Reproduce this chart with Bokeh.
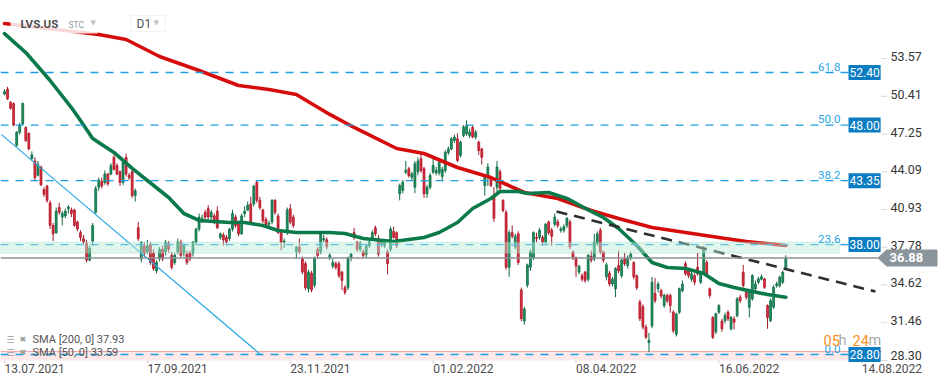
from bokeh.plotting import figure
from bokeh.models import (Range1d, BoxAnnotation, Label, PolyAnnotation,
                          ColumnDataSource)
from bokeh.embed import file_html
from bokeh.resources import INLINE

# ---------------- data ----------------
opens = [
    50.6, 51.0, 49.9, 49.8, 46.3, 47.4, 48.1, 47.8, 47.3, 45.2,
    45.0, 43.8, 44.5, 42.6, 42.9, 41.5, 39.6, 39.0, 41.1, 40.3,
    40.4, 41.0, 40.9, 40.9, 39.9, 39.0, 38.5, 38.1, 36.7, 38.3,
    40.7, 42.8, 43.3, 43.2, 43.9, 43.9, 45.3, 44.6, 44.1, 43.2,
    45.3, 43.8, 44.1, 42.1, 39.4, 36.8, 37.9, 37.4, 38.0, 37.3,
    35.8, 36.8, 37.6, 37.4, 38.1, 37.1, 36.5, 37.4, 38.2, 37.3,
    37.2, 37.3, 37.3, 38.2, 39.3,
    40.0, 40.7, 41.0, 40.3, 40.4, 40.8, 38.6, 38.8, 38.6, 38.5,
    39.3, 40.3, 39.9, 38.9, 40.6, 40.9, 41.4, 41.4, 43.2, 41.7,
    40.9, 40.1, 39.7, 39.9, 41.7, 40.4, 39.0, 38.2, 39.0, 41.0,
    40.3, 37.4, 37.8, 36.8, 36.4, 34.3, 35.6, 34.6, 37.6, 37.4,
    38.4, 38.4, 36.9, 36.2, 36.4, 36.4, 35.7, 34.4, 34.4, 36.9,
    39.0, 38.2, 37.6, 37.4, 37.2, 37.9, 38.5, 39.4, 38.5, 38.0,
    37.9, 37.4, 37.6, 39.1, 39.0,
    42.25, 42.53, 44.06, 44.34, 43.64, 42.8, 44.1, 45.18, 44.34, 42.25,
    42.8, 44.06, 44.0, 44.0, 43.7, 44.2, 45.7, 46.0, 46.71, 46.85,
    45.46, 47.13, 47.27, 47.13, 47.8, 47.0, 46.57, 46.0, 42.94, 43.6,
    43.5, 42.0, 42.8, 44.1, 41.69, 40.7, 36.1, 39.0, 37.8, 38.9,
    34.2, 31.6, 34.6, 36.1, 36.9, 38.6, 38.6, 38.6, 38.2, 39.9,
    39.2, 39.7, 39.9, 39.2, 39.2, 39.6, 39.9, 37.4, 36.9, 35.7,
    35.4, 35.7, 35.1,
    37.0, 36.8, 38.06, 39.2, 37.4, 35.3, 35.6, 34.7, 34.3, 36.25,
    35.4, 36.8, 36.25, 36.9, 36.5, 35.4, 33.2, 32.8, 31.1, 29.8,
    31.2, 33.9, 34.3, 34.15, 32.9, 33.75, 33.74, 32.34, 30.5, 32.34,
    34.15, 36.4, 35.8, 35.1, 35.4, 36.1, 34.85, 35.7, 36.5, 34.3,
    31.9, 30.7, 32.34, 31.6, 31.64, 32.34, 30.95, 31.78, 32.06, 33.6,
    35.69, 34.0, 32.76, 33.46, 34.3, 34.85, 35.1, 35.13, 32.9, 31.64,
    32.76, 34.57, 34.57, 34.85, 35.97,
]
highs = [
    51.0, 51.2, 50.0, 49.9, 47.5, 48.2, 49.9, 47.9, 47.4, 45.8,
    45.3, 45.0, 44.6, 42.8, 43.0, 41.7, 39.8, 41.1, 41.5, 40.8,
    41.0, 41.3, 41.1, 41.0, 40.0, 39.2, 38.8, 38.4, 37.9, 39.8,
    42.9, 43.6, 43.6, 44.2, 44.0, 44.8, 45.5, 44.8, 44.2, 45.0,
    45.6, 44.0, 44.2, 42.7, 39.9, 38.3, 38.2, 38.4, 38.2, 37.6,
    36.7, 37.8, 37.9, 38.4, 38.3, 37.4, 37.3, 38.5, 38.4, 38.1,
    37.5, 37.5, 38.3, 39.4, 40.6,
    40.5, 40.9, 41.3, 40.9, 40.6, 41.2, 39.0, 39.0, 38.8, 39.4,
    40.9, 40.5, 40.0, 40.6, 41.2, 41.6, 42.0, 43.0, 43.4, 42.0,
    41.0, 40.3, 40.0, 41.8, 41.8, 40.6, 39.1, 38.5, 41.1, 41.4,
    40.5, 37.9, 38.5, 37.0, 36.6, 35.9, 35.8, 37.0, 37.8, 39.1,
    38.8, 38.6, 37.3, 36.8, 36.6, 36.6, 35.8, 34.6, 37.0, 37.3,
    39.4, 38.3, 38.3, 37.6, 38.0, 38.4, 39.2, 39.6, 38.8, 38.4,
    38.4, 37.6, 39.5, 39.5, 39.1,
    43.1, 43.4, 45.0, 44.5, 44.1, 45.0, 45.3, 45.7, 44.5, 43.0,
    44.0, 45.3, 44.5, 45.1, 44.5, 45.9, 46.2, 47.0, 47.2, 47.3,
    46.7, 48.0, 48.4, 47.7, 48.0, 47.6, 46.7, 46.1, 43.8, 44.8,
    43.7, 42.8, 45.0, 44.3, 41.8, 40.9, 39.2, 39.6, 38.9, 39.1,
    34.4, 32.8, 36.4, 37.6, 39.1, 39.0, 39.4, 38.8, 39.8, 40.0,
    39.4, 40.6, 40.1, 39.5, 39.7, 40.3, 40.1, 37.5, 37.0, 36.3,
    35.6, 35.8, 37.2,
    37.5, 38.9, 39.1, 39.4, 37.5, 36.5, 35.8, 35.3, 36.1, 37.5,
    36.8, 37.3, 37.1, 37.4, 36.6, 35.5, 33.4, 33.0, 31.3, 30.6,
    35.3, 35.2, 34.9, 34.3, 33.9, 33.9, 33.9, 32.5, 32.3, 34.4,
    35.0, 36.6, 36.0, 35.7, 35.6, 37.3, 35.8, 37.9, 36.7, 34.4,
    32.0, 32.3, 33.0, 31.8, 32.3, 32.5, 32.0, 32.0, 33.6, 33.8,
    36.3, 34.2, 34.3, 35.5, 35.0, 35.3, 35.5, 35.2, 33.0, 33.5,
    34.6, 34.9, 35.4, 35.8, 37.1,
]
lows = [
    50.5, 50.1, 49.3, 47.9, 46.2, 47.2, 48.0, 46.6, 45.9, 45.0,
    43.3, 43.7, 42.9, 42.0, 41.5, 39.3, 38.3, 38.9, 40.5, 39.6,
    40.2, 40.6, 40.3, 39.5, 39.1, 38.3, 38.0, 36.5, 36.6, 37.9,
    40.6, 42.5, 42.7, 43.0, 42.9, 43.8, 44.2, 43.8, 42.9, 43.0,
    43.7, 43.4, 41.9, 41.6, 38.3, 36.5, 37.0, 37.2, 36.3, 35.8,
    35.6, 36.6, 36.6, 37.1, 37.3, 35.9, 36.3, 37.2, 36.9, 37.0,
    36.3, 36.6, 37.0, 38.0, 39.1,
    39.8, 40.1, 40.1, 40.1, 39.7, 39.3, 38.4, 37.9, 37.9, 38.3,
    39.1, 39.4, 38.7, 38.8, 40.3, 40.8, 39.7, 41.2, 41.5, 40.9,
    39.8, 39.4, 39.5, 39.7, 40.5, 38.9, 37.5, 37.7, 38.8, 39.7,
    39.4, 36.8, 37.2, 35.5, 34.2, 34.0, 34.0, 34.4, 36.8, 37.2,
    38.2, 37.6, 36.7, 36.0, 35.9, 35.2, 34.2, 33.8, 34.2, 36.6,
    38.4, 37.4, 37.4, 36.9, 36.9, 37.7, 38.3, 38.7, 37.0, 37.8,
    37.7, 35.5, 37.4, 38.5, 37.7,
    41.7, 42.3, 43.9, 43.6, 43.4, 42.3, 43.8, 44.0, 41.9, 41.9,
    42.6, 43.9, 43.8, 43.8, 43.3, 44.0, 45.5, 45.9, 46.5, 44.9,
    45.3, 47.0, 47.1, 46.9, 46.9, 46.8, 45.5, 44.7, 42.1, 42.9,
    42.8, 39.9, 42.3, 42.3, 40.7, 35.9, 35.3, 38.5, 37.6, 36.3,
    31.6, 31.3, 34.4, 35.8, 36.7, 38.2, 38.4, 37.9, 38.0, 38.8,
    37.9, 39.5, 39.4, 39.0, 39.0, 39.4, 37.6, 36.7, 35.3, 35.5,
    34.9, 34.8, 34.9,
    36.5, 36.6, 37.9, 37.2, 36.5, 35.0, 34.5, 34.5, 33.6, 35.6,
    35.2, 36.2, 36.0, 36.7, 35.1, 34.2, 31.6, 30.9, 30.1, 29.0,
    31.0, 33.1, 34.0, 33.5, 32.7, 33.1, 32.3, 30.6, 30.3, 32.2,
    34.0, 35.4, 35.2, 34.9, 34.6, 35.4, 34.7, 35.5, 35.4, 33.5,
    30.1, 30.5, 32.2, 30.7, 31.4, 31.6, 30.8, 30.9, 31.9, 33.1,
    34.4, 33.4, 31.9, 33.3, 34.1, 34.7, 35.0, 34.3, 30.95, 31.5,
    32.6, 34.4, 34.4, 34.7, 35.9,
]
closes = [
    50.8, 50.2, 49.4, 48.0, 47.4, 48.0, 49.8, 46.7, 46.0, 45.5,
    43.6, 44.7, 43.0, 42.2, 41.7, 39.6, 38.9, 40.8, 40.7, 40.6,
    40.8, 41.15, 40.6, 39.6, 39.3, 38.6, 38.2, 36.7, 37.7, 39.6,
    42.7, 43.4, 42.9, 43.9, 43.1, 44.6, 44.3, 43.9, 43.2, 44.9,
    43.9, 43.6, 42.1, 42.5, 38.5, 38.2, 37.3, 37.9, 36.5, 36.0,
    36.5, 37.6, 36.8, 38.2, 37.6, 36.1, 37.1, 38.2, 37.1, 37.9,
    36.5, 36.8, 38.2, 39.3, 40.3,
    40.2, 40.3, 40.3, 40.7, 39.9, 39.4, 38.9, 38.4, 38.2, 39.3,
    40.6, 39.6, 38.9, 40.4, 40.8, 41.3, 39.9, 42.9, 41.7, 41.1,
    40.0, 39.6, 39.8, 41.7, 40.7, 39.0, 38.2, 38.3, 40.9, 39.9,
    39.6, 37.8, 37.4, 35.7, 34.4, 35.7, 34.2, 36.9, 37.1, 39.0,
    38.5, 37.8, 37.1, 36.5, 36.1, 35.4, 35.0, 34.0, 36.9, 37.2,
    38.6, 37.6, 38.1, 37.1, 37.9, 38.2, 39.0, 38.9, 37.2, 38.2,
    38.2, 36.4, 39.3, 38.6, 37.9,
    42.94, 43.22, 44.2, 43.78, 43.92, 44.76, 45.0, 44.2, 42.25, 42.8,
    43.78, 44.62, 44.2, 44.9, 44.3, 45.73, 46.0, 46.85, 46.99, 45.04,
    46.57, 47.83, 47.97, 47.41, 47.0, 47.4, 45.87, 45.3, 43.64, 44.48,
    42.94, 40.2, 44.5, 42.7, 40.85, 36.1, 39.0, 38.7, 38.7, 36.5,
    31.8, 32.6, 36.3, 37.4, 39.0, 38.5, 39.2, 38.2, 39.7, 39.0,
    38.7, 40.3, 39.6, 39.3, 39.5, 40.2, 37.8, 36.9, 36.2, 36.2,
    35.1, 35.0, 37.1,
    36.7, 38.2, 38.9, 37.4, 36.7, 36.3, 34.7, 35.1, 36.0, 35.8,
    36.7, 36.4, 36.9, 37.2, 35.3, 34.4, 31.8, 31.1, 30.25, 30.0,
    34.85, 33.3, 34.7, 33.7, 33.75, 33.3, 32.9, 30.8, 32.2, 34.3,
    34.7, 35.55, 35.4, 35.55, 34.85, 35.55, 35.7, 37.64, 35.55, 33.74,
    30.25, 32.2, 32.9, 30.95, 32.06, 31.78, 31.92, 31.5, 33.46, 33.3,
    34.57, 33.6, 34.15, 35.41, 34.7, 35.13, 35.3, 34.43, 31.9, 33.3,
    34.43, 34.71, 35.27, 35.69, 36.88,
]

# moving averages (bar index, value)
sma200_idx = [0, 31, 40, 51, 64, 77, 87, 96, 107, 115, 129, 138, 149,
              160, 171, 182, 193, 202, 213, 224, 235, 244, 257]
sma200_val = [56.5, 55.58, 55.16, 53.74, 52.57, 51.31, 50.98, 50.56, 48.89,
              47.8, 46.04, 45.62, 44.45, 43.61, 42.36, 41.86, 40.85, 40.18,
              39.43, 39.01, 38.59, 38.26, 37.93]
sma50_idx = [0, 7, 15, 22, 25, 29, 36, 42, 47, 54, 59, 64, 74, 79, 85, 90,
             96, 107, 112, 118, 128, 138, 143, 149, 154, 160, 163, 169, 172,
             179, 185, 193, 197, 202, 208, 213, 218, 224, 230, 235, 240, 246,
             251, 257]
sma50_val = [55.66, 54.07, 51.73, 49.47, 48.38, 46.88, 45.71, 44.37, 43.36,
             41.94, 40.6, 40.02, 39.85, 39.85, 39.6, 39.18, 39.01, 39.01,
             38.93, 38.51, 38.26, 38.59, 39.01, 39.85, 41.02, 41.86, 42.44,
             42.44, 42.27, 42.36, 41.86, 40.77, 40.27, 39.35, 37.92, 36.5,
             36.08, 36.0, 35.58, 34.74, 34.41, 34.07, 33.82, 33.59]

fib_pct = ["61.8", "50.0", "38.2", "23.6", "0.0"]
fib_lvl = [52.40, 48.00, 43.35, 38.00, 28.80]
y_ticks = [28.30, 31.46, 34.62, 37.78, 40.93, 44.09, 47.25, 50.41, 53.57]
date_idx = [0, 47, 94, 141, 188, 235, 282]
date_lbl = ["13.07.2021", "17.09.2021", "23.11.2021", "01.02.2022",
            "08.04.2022", "16.06.2022", "14.08.2022"]
last_price = 36.88
zone_top, zone_bottom = 38.20, 37.28
pink_top = 29.05
support_x, support_y = [-1, 84], [47.2, 28.85]          # thin blue trend line
resist_x, resist_y = [181.6, 286.5], [40.77, 34.07]     # black dashed trend line
legend_rows = ["SMA [200, 0] 37.93", "SMA [50, 0] 33.59"]

# ---------------- layout (pixels) ----------------
W, H = 948, 384
PX_BAR, PX_USD = 3.04, 11.95
X0 = -4 / PX_BAR                 # bar index at the left edge
Y_TOP = 52.40 + 72 / PX_USD      # price at the top edge
PLOT_RIGHT_PX = 881              # right end of the price pane
PLOT_BOTTOM = 28.30              # price at the bottom of the price pane
PLOT_RIGHT = X0 + PLOT_RIGHT_PX / PX_BAR

GREEN, GREEN_EDGE = "#1f9160", "#0f6b44"
RED, RED_EDGE = "#df2c3c", "#a8192a"
FIB = "#1a9fe3"

p = figure(width=W, height=H,
           x_range=Range1d(X0, X0 + W / PX_BAR),
           y_range=Range1d(Y_TOP - H / PX_USD, Y_TOP),
           x_axis_location=None, y_axis_location=None,
           output_backend="svg", toolbar_location=None,
           min_border_left=0, min_border_right=0, min_border_top=0,
           min_border_bottom=0)
p.outline_line_color = None
p.grid.visible = False

# bands (drawn first so that lines stay crisp)
p.add_layout(BoxAnnotation(bottom=PLOT_BOTTOM, top=pink_top,
                           right=PLOT_RIGHT_PX, right_units="screen",
                           fill_color="#fbd3d3", fill_alpha=0.5,
                           line_color=None, level="underlay"))
p.segment(x0=[X0], x1=[PLOT_RIGHT], y0=[pink_top], y1=[pink_top],
          line_color="#f3a9a9", line_width=1)

# candles
n = len(closes)
up = [i for i in range(n) if closes[i] >= opens[i]]
dn = [i for i in range(n) if closes[i] < opens[i]]


def candle_source(ids):
    return ColumnDataSource(dict(
        x=ids,
        top=[max(opens[i], closes[i]) for i in ids],
        bottom=[min(opens[i], closes[i]) for i in ids],
        high=[highs[i] for i in ids],
        low=[lows[i] for i in ids]))


for ids, fill, edge in ((up, GREEN, GREEN_EDGE), (dn, RED, RED_EDGE)):
    s = candle_source(ids)
    p.segment(x0="x", y0="low", x1="x", y1="high", source=s,
              line_color=edge, line_width=1)
    p.vbar(x="x", width=0.62, top="top", bottom="bottom", source=s,
           fill_color=fill, line_color=edge, line_width=0.8)

# moving averages and trend lines
p.line(sma200_idx, sma200_val, line_color="#d60c0c", line_width=3.6,
       line_join="round", line_cap="round")
p.line(sma50_idx, sma50_val, line_color="#0b7a4b", line_width=3.6,
       line_join="round", line_cap="round")
p.line(support_x, support_y, line_color="#2aa9e4", line_width=1.2)
p.line(resist_x, resist_y, line_color="#2f2f2f", line_width=2.6,
       line_dash="11 7")

# green zone (semi transparent, over the candles)
p.add_layout(BoxAnnotation(bottom=zone_bottom, top=zone_top, right=839,
                           right_units="screen", fill_color="#b9ead8",
                           fill_alpha=0.45, line_color="#86d6b9",
                           line_width=1))

# current price line
p.segment(x0=[X0], x1=[PLOT_RIGHT], y0=[last_price], y1=[last_price],
          line_color="#8a9297", line_width=1.5)

# fibonacci levels
p.segment(x0=[X0] * len(fib_lvl), x1=[PLOT_RIGHT] * len(fib_lvl),
          y0=fib_lvl, y1=fib_lvl, line_color=FIB, line_dash="8 7",
          line_width=1.4)
for pct, lvl in zip(fib_pct, fib_lvl):
    p.add_layout(Label(x=840, y=lvl, x_units="screen", text=pct,
                       text_align="right", text_baseline="bottom",
                       y_offset=2, text_font="Roboto",
                       text_font_size="11.5px", text_color="#27a6e6"))
    p.add_layout(Label(x=848, y=lvl, x_units="screen", text=f"{lvl:.2f}",
                       text_align="left", text_baseline="middle",
                       text_font="Roboto", text_font_size="12px",
                       text_color="white", background_fill_color="#0a7cc2",
                       padding=(1, 3)))

# price scale (right)
tick_len = 6 / PX_BAR
p.segment(x0=[PLOT_RIGHT] * len(y_ticks),
          x1=[PLOT_RIGHT + tick_len] * len(y_ticks),
          y0=y_ticks, y1=y_ticks, line_color="#d9d9d9", line_width=1)
for t in y_ticks:
    p.add_layout(Label(x=890, y=t, x_units="screen", text=f"{t:.2f}",
                       text_baseline="middle",
                       y_offset=5 if t == PLOT_BOTTOM else 2,
                       text_font="Roboto", text_font_size="12.5px",
                       text_color="#363636"))

# time scale (bottom)
tick_h = 3 / PX_USD
p.segment(x0=date_idx, x1=date_idx, y0=[PLOT_BOTTOM] * len(date_idx),
          y1=[PLOT_BOTTOM - tick_h] * len(date_idx),
          line_color="#cfcfcf", line_width=1)
for di, dl in zip(date_idx, date_lbl):
    p.add_layout(Label(x=di, y=H - 368, y_units="screen", text=dl,
                       text_align="left", text_baseline="middle",
                       text_font="Roboto", text_font_size="12px",
                       text_color="#4d4d4d"))

# price flag
half = 8.5 / PX_USD
p.add_layout(PolyAnnotation(xs=[877, 886, 937, 937, 886], xs_units="screen",
                            ys=[last_price, last_price + half,
                                last_price + half, last_price - half,
                                last_price - half], ys_units="data",
                            fill_color="#8a959b", fill_alpha=1,
                            line_color=None))
p.add_layout(Label(x=889, y=last_price, x_units="screen",
                   text=f"{last_price:.2f}", text_baseline="middle",
                   text_font="Roboto", text_font_style="bold",
                   text_font_size="13px", text_color="white"))

# countdown
for txt, xx, col in (("05", 823, "#f7931e"), ("h", 838, "#a9a9a9"),
                     ("24", 852, "#f7931e"), ("m", 868, "#a9a9a9")):
    p.add_layout(Label(x=xx, y=H - 340, x_units="screen", y_units="screen",
                       text=txt, text_baseline="middle", text_font="Roboto",
                       text_font_size="14.5px", text_color=col))

# indicator legend (bottom left)
for row, yy in zip(legend_rows, (339, 352)):
    p.add_layout(Label(x=6, y=H - yy, x_units="screen", y_units="screen",
                       text="\u2630", text_baseline="middle",
                       text_font="DejaVu Sans", text_font_size="9px",
                       text_color="#9c9c9c"))
    p.add_layout(Label(x=19, y=H - yy, x_units="screen", y_units="screen",
                       text="\u2716", text_baseline="middle",
                       text_font="DejaVu Sans", text_font_size="8px",
                       text_color="#9c9c9c"))
    p.add_layout(Label(x=32, y=H - yy, x_units="screen", y_units="screen",
                       text=row, text_baseline="middle", text_font="Roboto",
                       text_font_size="11px", text_color="#555555"))

# header
p.add_layout(BoxAnnotation(left=10, right=97, top=H - 13, bottom=H - 33,
                           left_units="screen", right_units="screen",
                           top_units="screen", bottom_units="screen",
                           fill_color="white", fill_alpha=0.85,
                           line_color=None))
p.add_layout(Label(x=20, y=H - 23, x_units="screen", y_units="screen",
                   text="LVS.US", text_baseline="middle", text_font="Roboto",
                   text_font_style="bold", text_font_size="11.5px",
                   text_color="#4f4f4f"))
p.add_layout(Label(x=68, y=H - 24, x_units="screen", y_units="screen",
                   text="STC", text_baseline="middle", text_font="Roboto",
                   text_font_size="8.5px", text_color="#8a9aa8"))
p.add_layout(Label(x=90, y=H - 22, x_units="screen", y_units="screen",
                   text="\u25bc", text_baseline="middle",
                   text_font="DejaVu Sans", text_font_size="7px",
                   text_color="#c4c4c4"))
p.add_layout(BoxAnnotation(left=130, right=165, top=H - 15, bottom=H - 31,
                           left_units="screen", right_units="screen",
                           top_units="screen", bottom_units="screen",
                           fill_color="white", fill_alpha=1,
                           line_color="#dadada", line_width=1))
p.add_layout(Label(x=136, y=H - 23, x_units="screen", y_units="screen",
                   text="D1", text_baseline="middle", text_font="Roboto",
                   text_font_size="12px", text_color="#555555"))
p.add_layout(Label(x=153, y=H - 22, x_units="screen", y_units="screen",
                   text="\u25bc", text_baseline="middle",
                   text_font="DejaVu Sans", text_font_size="7px",
                   text_color="#c4c4c4"))

open("out.html", "w").write(file_html(p, INLINE))
